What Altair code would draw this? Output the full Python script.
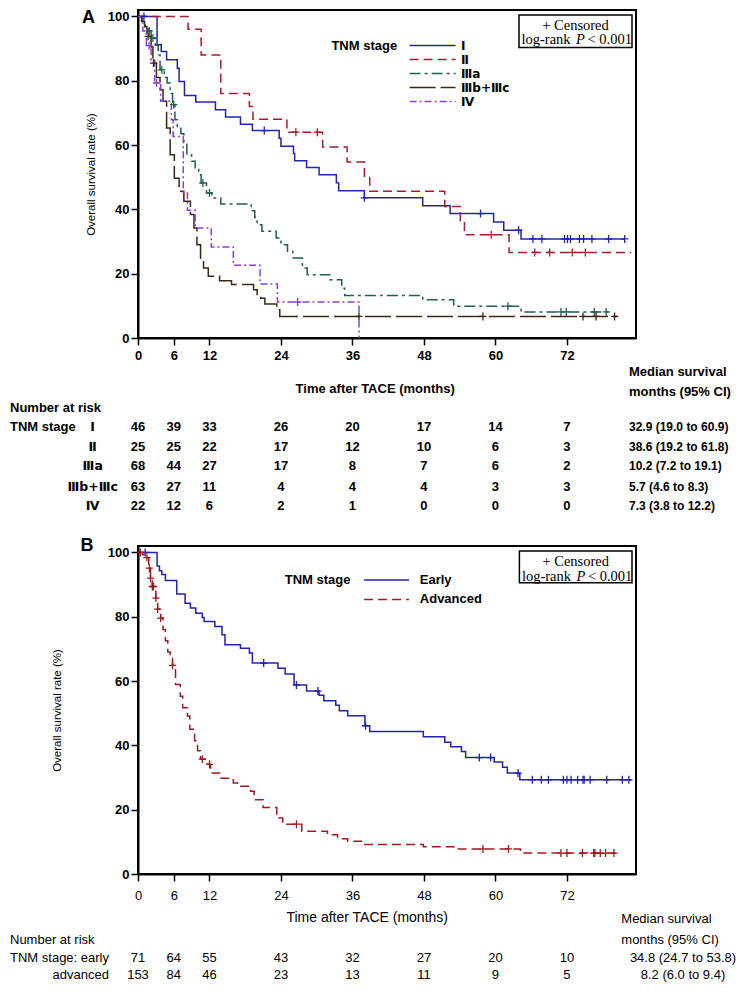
import altair as alt
import pandas as pd

# ---------------- data ----------------
TICK_MONTHS = [0, 6, 12, 24, 36, 48, 60, 72]
SURV_TICKS = [0, 20, 40, 60, 80, 100]

# Panel A : TNM stage
STAGES_A = ["Ⅰ", "Ⅱ", "Ⅲa", "Ⅲb+Ⅲc", "Ⅳ"]

I_TIME = [0, 3.2, 3.9, 4.8, 6.6, 6.9, 7.8, 9.7, 13.0, 14.7, 17.2, 19.2, 23.7, 24.0, 26.1, 26.3,
          28.3, 30.4, 33.3, 33.7, 38.0, 47.8, 52.4, 59.7, 61.4, 64.3, 81.7]
I_SURV = [100, 91.2, 89.1, 86.5, 83.9, 79.8, 75.4, 73.4, 71.0, 68.7, 66.5, 64.5, 62.1, 59.6, 57.4, 55.1,
          53.0, 50.8, 48.3, 45.8, 43.6, 41.1, 38.7, 36.1, 33.5, 30.8, 30.8]
I_CENS = [1.0, 21.2, 38.0, 57.5, 63.9, 66.3, 67.8, 71.6, 72.1, 72.6, 74.1, 74.8, 76.2, 79.0, 81.7]

II_TIME = [0, 8.4, 10.6, 13.9, 18.7, 19.3, 25.0, 31.0, 35.1, 38.0, 38.9, 51.5, 54.1, 54.8, 62.3, 82.8]
II_SURV = [100, 96.0, 88.0, 76.0, 72.0, 68.0, 64.0, 59.4, 54.7, 50.3, 45.6, 40.9, 36.5, 32.1, 26.6, 26.6]
II_CENS = [26.5, 30.1, 59.3, 66.6, 69.1, 72.9, 75.1]

IIIA_TIME = [0, 0.7, 1.2, 1.7, 2.2, 2.9, 3.4, 3.7, 4.4, 4.9, 5.4, 5.8, 6.2, 6.6, 7.2, 7.7, 8.2, 9.0, 9.6,
             10.2, 10.6, 11.5, 12.4, 13.9, 19.0, 19.6, 20.0, 20.8, 23.2, 24.0, 25.1, 26.0, 27.6, 28.4,
             32.2, 34.2, 34.7, 47.8, 53.0, 64.3, 79.0]
IIIA_SURV = [100, 98.5, 97.0, 95.5, 93.3, 91.0, 88.0, 83.4, 81.0, 79.3, 76.0, 72.6, 67.9, 65.8, 63.5, 61.0,
             57.0, 55.0, 52.9, 50.8, 48.2, 45.1, 43.5, 41.7, 39.6, 37.5, 35.2, 33.2, 31.1, 29.0, 27.0, 24.9,
             21.8, 19.7, 18.1, 15.5, 13.2, 11.9, 9.9, 8.1, 8.1]
IIIA_CENS = [1.9, 2.5, 4.0, 6.0, 10.9, 12.0, 62.1, 71.0, 71.9, 76.6, 78.6]

IIIBC_TIME = [0, 0.6, 1.1, 1.5, 2.2, 2.5, 3.1, 3.7, 4.2, 4.8, 5.4, 6.1, 6.9, 7.7, 8.8, 9.4, 9.9, 10.5,
              11.0, 11.8, 13.7, 15.7, 19.4, 20.0, 20.6, 21.3, 23.3, 23.8, 80.5]
IIIBC_SURV = [100, 98.4, 96.8, 93.8, 90.5, 85.5, 81.0, 77.2, 73.6, 65.3, 57.0, 49.7, 45.6, 42.5, 38.4,
              34.2, 29.0, 24.9, 21.8, 19.2, 17.8, 16.6, 15.0, 13.5, 12.4, 10.6, 8.8, 6.7, 6.7]
IIIBC_CENS = [1.7, 2.6, 37.1, 57.9, 74.7, 76.9, 80.0]

IV_TIME = [0, 0.8, 1.4, 2.2, 2.8, 3.8, 5.6, 5.9, 7.6, 8.3, 9.6, 12.3, 16.0, 20.5, 23.4, 37.1]
IV_SURV = [100, 95.5, 90.9, 86.4, 79.3, 73.6, 67.9, 62.7, 45.1, 39.7, 34.2, 28.3, 22.6, 16.8, 11.2, 0]
IV_CENS = [1.85, 3.1, 26.8]

RISK_A_I = [46, 39, 33, 26, 20, 17, 14, 7]
RISK_A_II = [25, 25, 22, 17, 12, 10, 6, 3]
RISK_A_IIIA = [68, 44, 27, 17, 8, 7, 6, 2]
RISK_A_IIIBC = [63, 27, 11, 4, 4, 4, 3, 3]
RISK_A_IV = [22, 12, 6, 2, 1, 0, 0, 0]
MEDIAN_A = ["32.9 (19.0 to 60.9)", "38.6 (19.2 to 61.8)", "10.2 (7.2 to 19.1)",
            "5.7 (4.6 to 8.3)", "7.3 (3.8 to 12.2)"]

# Panel B : early vs advanced
STAGES_B = ["Early", "Advanced"]
EARLY_TIME = [0, 3.2, 3.6, 4.0, 4.6, 6.5, 7.9, 8.8, 9.7, 10.8, 11.1, 12.9, 14.1, 14.6, 17.2, 18.7, 19.2,
              23.5, 24.7, 26.2, 28.3, 30.4, 31.2, 33.2, 33.8, 35.2, 38.1, 38.9, 47.9, 51.5, 52.5, 54.3,
              55.0, 59.8, 61.2, 62.0, 64.1, 82.8]
EARLY_SURV = [100, 95.8, 94.3, 93.1, 91.3, 87.1, 84.2, 82.7, 81.1, 79.8, 78.5, 77.0, 74.4, 71.3, 70.2,
              68.7, 65.6, 64.0, 62.2, 58.8, 56.9, 55.6, 53.9, 52.5, 50.8, 49.2, 46.1, 44.3, 42.7, 41.0,
              39.6, 38.1, 36.2, 34.8, 33.2, 31.4, 29.3, 29.3]
EARLY_CENS = [1.2, 21.1, 26.6, 30.2, 38.2, 57.3, 59.2, 63.8, 66.2, 67.7, 68.9, 71.4, 72.0, 72.7, 73.8,
              74.7, 74.9, 75.9, 78.7, 81.3, 82.4]

ADV_TIME = [0, 0.8, 1.5, 1.8, 2.1, 2.4, 3.0, 3.3, 3.8, 4.2, 4.6, 5.0, 5.4, 5.8, 6.3, 7.1, 7.5, 8.3, 8.7,
            9.5, 10.0, 10.5, 11.3, 12.2, 13.7, 16.0, 16.7, 18.9, 19.5, 21.0, 23.3, 24.3, 27.5, 31.8,
            33.5, 35.2, 37.8, 47.9, 53.0, 64.2, 80.2]
ADV_SURV = [100, 99.3, 98.4, 95.1, 92.0, 89.4, 85.8, 82.4, 79.6, 76.0, 72.5, 69.0, 67.0, 64.9, 58.9,
            55.3, 51.7, 49.1, 45.0, 41.4, 38.3, 35.7, 34.1, 31.4, 29.8, 28.3, 27.3, 25.7, 23.1, 20.7,
            17.4, 15.5, 13.3, 12.2, 11.0, 10.2, 9.2, 8.5, 7.8, 6.5, 6.5]
ADV_CENS = [0.4, 1.5, 1.9, 2.1, 2.4, 2.6, 3.0, 3.3, 3.8, 5.8, 10.8, 12.0, 26.6, 57.9, 62.2, 71.0, 72.0,
            74.6, 76.5, 76.7, 77.6, 78.5, 79.9]

RISK_B_EARLY = [71, 64, 55, 43, 32, 27, 20, 10]
RISK_B_ADV = [153, 84, 46, 23, 13, 11, 9, 5]
MEDIAN_B = ["34.8 (24.7 to 53.8)", "8.2 (6.0 to 9.4)"]

# ---------------- style ----------------
COLORS_A = ["#2424a6", "#a31d2e", "#1e5f50", "#3a2812", "#8e3fd0"]
DASHES_A = [[1, 0], [9, 5], [11, 4, 3, 4], [26, 5], [7, 3, 2, 3]]
COLORS_B = ["#2222aa", "#9a1c22"]
DASHES_B = [[1, 0], [9, 5]]

SANS = "Liberation Sans"
ROMAN = "DejaVu Sans"
SERIF = "Liberation Serif"
PLUS = "M0,-1V1M-0.9,0H0.9"

W, H = 498, 328
ONE = pd.DataFrame({"k": [0]})


def xscale():
    return alt.Scale(domain=[0, 83.6], nice=False, zero=False)


def yscale():
    return alt.Scale(domain=[0, 102], nice=False, zero=False)


def step_at(ts, ss, t):
    v = ss[0]
    for ti, si in zip(ts, ss):
        if ti <= t:
            v = si
    return v


def curve_frame(names, times, survs):
    rows = []
    for n, ts, ss in zip(names, times, survs):
        for t, s in zip(ts, ss):
            rows.append({"g": n, "t": t, "s": s})
    return pd.DataFrame(rows)


def censor_frame(ts, ss, cens):
    return pd.DataFrame({"t": cens, "s": [step_at(ts, ss, c) for c in cens]})


def label(s, x, y, font, size, weight="normal", align="left", baseline="middle", style="normal"):
    return alt.Chart(ONE).mark_text(
        text=s, font=font, fontSize=size, fontWeight=weight, fontStyle=style,
        align=align, baseline=baseline, color="black"
    ).encode(x=alt.value(x), y=alt.value(y))


def make_x_axis(font, size, weight, tfont, tsize, tweight, pad, tx, ty):
    return alt.Axis(
        values=TICK_MONTHS, title="Time after TACE (months)", grid=False,
        domainColor="black", domainWidth=2, tickColor="black", tickWidth=1.5, tickSize=7,
        labelFont=font, labelFontSize=size, labelFontWeight=weight, labelColor="black", labelPadding=pad,
        labelFlush=False, labelOverlap=False,
        titleFont=tfont, titleFontSize=tsize, titleFontWeight=tweight, titleColor="black",
        titleX=tx, titleY=ty, titleAlign="center", titleBaseline="middle",
    )


def make_y_axis(title_x):
    return alt.Axis(
        values=SURV_TICKS, title="Overall survival rate (%)", grid=False,
        domainColor="black", domainWidth=2, tickColor="black", tickWidth=1.5, tickSize=7,
        labelFont=SANS, labelFontSize=13, labelFontWeight="bold", labelColor="black", labelPadding=2,
        titleFont=SANS, titleFontSize=11.5, titleFontWeight="normal", titleColor="black",
        titleX=title_x, titleY=H / 2, titleAlign="center", titleBaseline="middle",
    )


def panel(names, times, survs, cens, colors, dashes, legend, xaxis, yaxis, text_rows, extra):
    X = lambda: alt.X("t:Q", scale=xscale(), axis=xaxis)
    Y = lambda: alt.Y("s:Q", scale=yscale(), axis=yaxis)
    cdf = curve_frame(names, times, survs)
    lines = alt.Chart(cdf).mark_line(interpolate="step-after", strokeWidth=1.5, clip=True).encode(
        x=X(), y=Y(),
        color=alt.Color("g:N", scale=alt.Scale(domain=names, range=colors), legend=legend),
        strokeDash=alt.StrokeDash("g:N", scale=alt.Scale(domain=names, range=dashes), legend=legend),
        detail="g:N",
    )
    layers = [lines]
    for ts, ss, cs, col in zip(times, survs, cens, colors):
        layers.append(
            alt.Chart(censor_frame(ts, ss, cs)).mark_point(
                shape=PLUS, filled=False, size=64, strokeWidth=1.3, opacity=1, color=col
            ).encode(x=X(), y=Y())
        )
    # number-at-risk rows, positioned on the time axis
    for vals, yy, font, size, weight in text_rows:
        df = pd.DataFrame({"t": TICK_MONTHS, "n": [str(v) for v in vals]})
        layers.append(
            alt.Chart(df).mark_text(
                font=font, fontSize=size, fontWeight=weight, align="center", baseline="middle", color="black"
            ).encode(x=X(), y=alt.value(yy), text="n:N")
        )
    layers += extra
    return alt.layer(*layers).properties(width=W, height=H)


def censor_box(x0, x1, y0, y1, ty1, ty2):
    cx = (x0 + x1) / 2
    return [
        alt.Chart(ONE).mark_rect(fill="white", stroke="black", strokeWidth=1.5).encode(
            x=alt.value(x0), x2=alt.value(x1), y=alt.value(y0), y2=alt.value(y1)),
        label("+ Censored", cx, ty1, SERIF, 14.5, align="center"),
        label("log-rank", x0 + 2.5, ty2, SERIF, 14.5),
        label("P", x0 + 57, ty2, SERIF, 14.5, style="italic"),
        label("< 0.001", x0 + 68.5, ty2, SERIF, 14.5),
    ]


# ---------------- panel A ----------------
legend_a = alt.Legend(
    orient="none", legendX=193.4, legendY=29.5, title="TNM stage", titleOrient="left",
    titleAnchor="start", titleFont=SANS, titleFontSize=13, titleFontWeight="bold", titleColor="black",
    titlePadding=12.7, titleBaseline="top", symbolType="M-5,0H5", symbolSize=84.6,
    symbolStrokeWidth=1.5, symbolOffset=16.5, labelOffset=22.4, labelFont=ROMAN, labelFontSize=12,
    labelFontWeight="bold", labelColor="black", rowPadding=2, padding=0, labelLimit=200,
)
xaxis_a = make_x_axis(SANS, 13, "bold", SANS, 13, "bold", 4, 236.7, 50.4)
rows_a_y = [417.4, 436.7, 456.0, 476.7, 495.7]
risk_a = [RISK_A_I, RISK_A_II, RISK_A_IIIA, RISK_A_IIIBC, RISK_A_IV]
extra_a = [label("A", -56, -1, SANS, 18, "bold", baseline="top")]
extra_a += censor_box(381, 494, 5, 37.4, 15.7, 30.2)
extra_a += [
    label("Median survival", 491, 362.4, SANS, 13, "bold"),
    label("months (95% CI)", 491, 381.7, SANS, 13, "bold"),
    label("Number at risk", -128, 398.4, SANS, 13, "bold"),
    label("TNM stage", -128, rows_a_y[0], SANS, 13, "bold"),
]
for name, med, yy in zip(STAGES_A, MEDIAN_A, rows_a_y):
    extra_a.append(label(name, -45.3, yy, ROMAN, 12.5, "bold", align="center"))
    extra_a.append(label(med, 491, yy, SANS, 12, "bold"))

panel_a = panel(
    STAGES_A,
    [I_TIME, II_TIME, IIIA_TIME, IIIBC_TIME, IV_TIME],
    [I_SURV, II_SURV, IIIA_SURV, IIIBC_SURV, IV_SURV],
    [I_CENS, II_CENS, IIIA_CENS, IIIBC_CENS, IV_CENS],
    COLORS_A, DASHES_A, legend_a, xaxis_a, make_y_axis(-46.3),
    [(v, y, SANS, 13, "bold") for v, y in zip(risk_a, rows_a_y)],
    extra_a,
)

# ---------------- panel B ----------------
legend_b = alt.Legend(
    orient="none", legendX=146.7, legendY=27.5, title="TNM stage", titleOrient="left",
    titleAnchor="start", titleFont=SANS, titleFontSize=13, titleFontWeight="bold", titleColor="black",
    titlePadding=13.4, titleBaseline="top", symbolType="M-5,0H5", symbolSize=81,
    symbolStrokeWidth=1.5, symbolOffset=16, labelOffset=26.7, labelFont=SANS, labelFontSize=13,
    labelFontWeight="bold", labelColor="black", rowPadding=5.4, padding=0, labelLimit=200,
)
xaxis_b = make_x_axis(SANS, 13, "normal", SANS, 14, "normal", 8, 228.7, 43.3)
rows_b_y = [411.7, 428.7]
extra_b = [label("B", -57.6, 0, SANS, 18, "bold")]
extra_b += censor_box(381.4, 494, 5, 36.7, 15.7, 30.7)
extra_b += [
    label("Median survival", 483.3, 372.7, SANS, 13),
    label("months (95% CI)", 483.3, 394, SANS, 13),
    label("Number at risk", -128, 394, SANS, 13),
    label("TNM stage: early", -29, rows_b_y[0], SANS, 13, align="right"),
    label("advanced", -29, rows_b_y[1], SANS, 13, align="right"),
]
for med, yy in zip(MEDIAN_B, rows_b_y):
    extra_b.append(label(med, 545, yy, SANS, 13, align="center"))

panel_b = panel(
    STAGES_B,
    [EARLY_TIME, ADV_TIME],
    [EARLY_SURV, ADV_SURV],
    [EARLY_CENS, ADV_CENS],
    COLORS_B, DASHES_B, legend_b, xaxis_b, make_y_axis(-80.3),
    [(v, y, SANS, 13, "normal") for v, y in zip([RISK_B_EARLY, RISK_B_ADV], rows_b_y)],
    extra_b,
)

chart = (
    alt.vconcat(panel_a, panel_b, spacing=208, bounds="flush")
    .resolve_scale(color="independent", strokeDash="independent", x="independent", y="independent")
    .properties(padding={"left": 1, "top": 0, "right": 0, "bottom": 0})
    .configure_view(stroke="black", strokeWidth=2)
)

chart.save("out.html", embed_options={"renderer": "svg", "actions": False})
